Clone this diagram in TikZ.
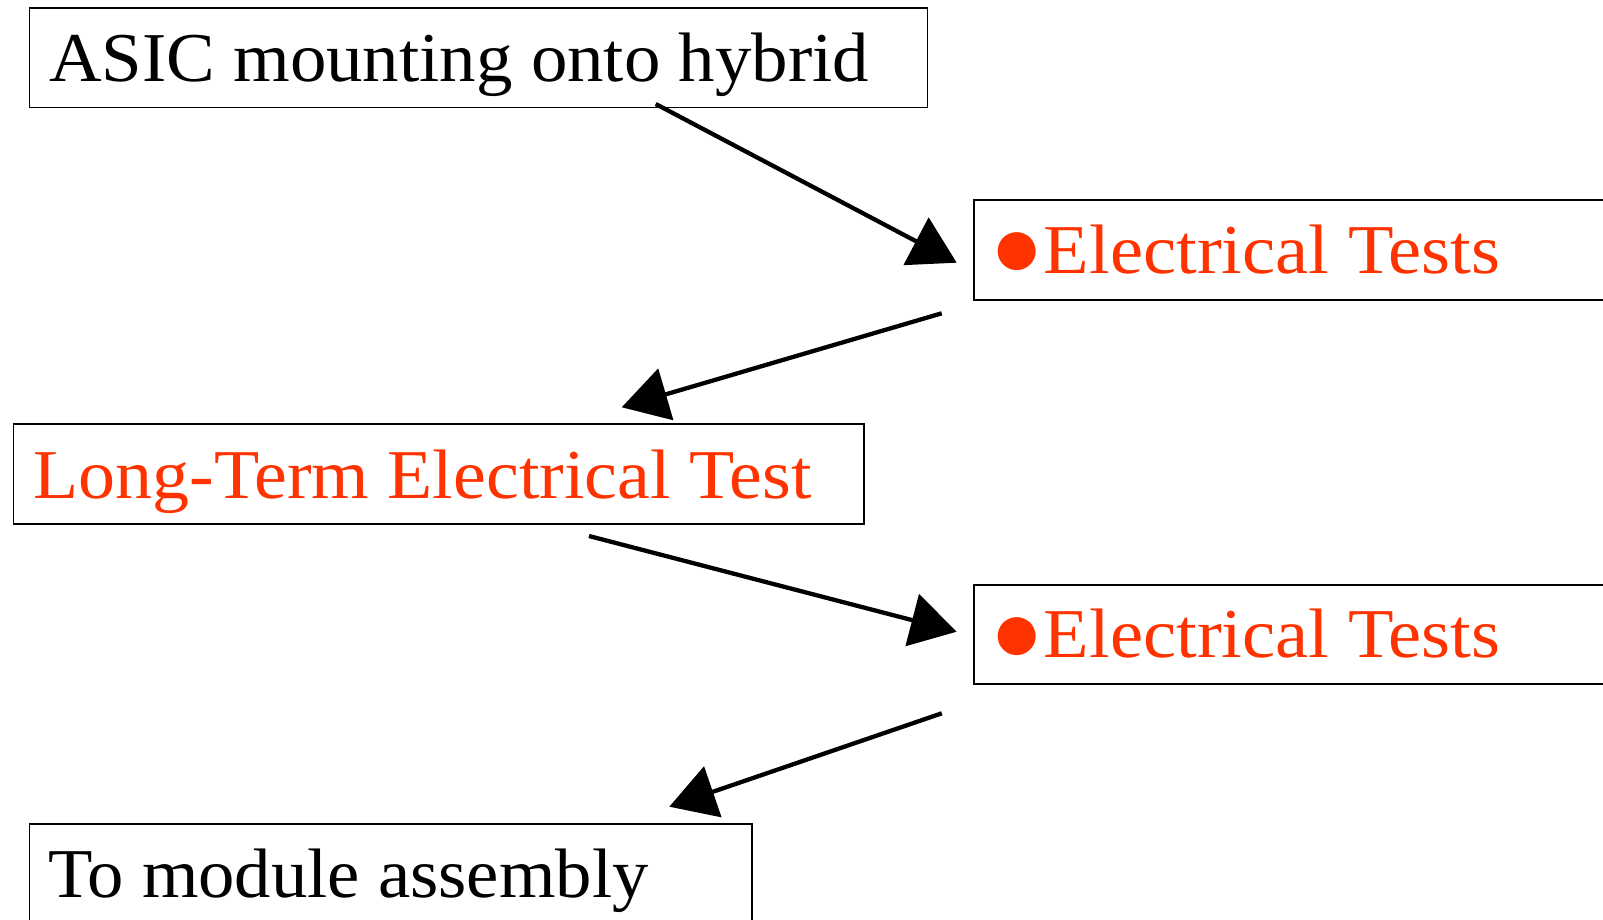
\documentclass[tikz,border=0pt]{standalone}
\usepackage{fontspec}
\setmainfont{Liberation Serif}
\usetikzlibrary{arrows.meta}
\definecolor{hot}{RGB}{255,51,0}
\newcommand{\bigdot}{{\fontsize{88.3}{90}\selectfont\raisebox{-3.4pt}{●}}}
\begin{document}
\begin{tikzpicture}[x=1pt,y=-1pt,
  box/.style={draw=black,line width=1.6pt,rectangle,inner sep=0pt,anchor=north west},
  lbl/.style={inner sep=0pt,anchor=base west,font=\fontsize{70}{80}\selectfont},
  flow/.style={line width=4.3pt,-{Triangle[length=46pt,width=53pt]}}]
\useasboundingbox (0,0) rectangle (1603,919);
\fill[white] (0,0) rectangle (1603,919);
% boxes
\node[box,minimum width=897.7pt,minimum height=99.5pt] (b1) at (28.8,7.3) {};
\node[box,minimum width=640pt,minimum height=100pt] (b2) at (973,199.3) {};
\node[box,minimum width=850.7pt,minimum height=100pt] (b3) at (12.7,423.3) {};
\node[box,minimum width=640pt,minimum height=99.3pt] (b4) at (973,584) {};
\node[box,minimum width=722.2pt,minimum height=110pt] (b5) at (28.8,823.3) {};
% labels
\node[lbl] (t1) at (49,81) {\scalebox{1.041}[1]{ASIC mounting onto hybrid}};
\node[lbl,text=hot] (t2) at (990.4,273.5) {\bigdot\scalebox{1.065}[1]{Electrical Tests}};
\node[lbl,text=hot] (t3) at (33.5,498.3) {\scalebox{1.056}[1]{Long-Term Electrical Test}};
\node[lbl,text=hot] (t4) at (990.4,657.7) {\bigdot\scalebox{1.065}[1]{Electrical Tests}};
\node[lbl] (t5) at (48,897.7) {\scalebox{1.038}[1]{To module assembly}};
% connector ends
\coordinate (s1) at (655.7,104);
\coordinate (e1) at (956.7,262.7);
\coordinate (s2) at (941.7,313.3);
\coordinate (e2) at (621.7,407.3);
\coordinate (s3) at (589,536);
\coordinate (e3) at (956.7,631.7);
\coordinate (s4) at (941.8,713.3);
\coordinate (e4) at (669.3,806.7);
\draw[flow] (s1) -- (e1);
\draw[flow] (s2) -- (e2);
\draw[flow] (s3) -- (e3);
\draw[flow] (s4) -- (e4);
\end{tikzpicture}
\end{document}
